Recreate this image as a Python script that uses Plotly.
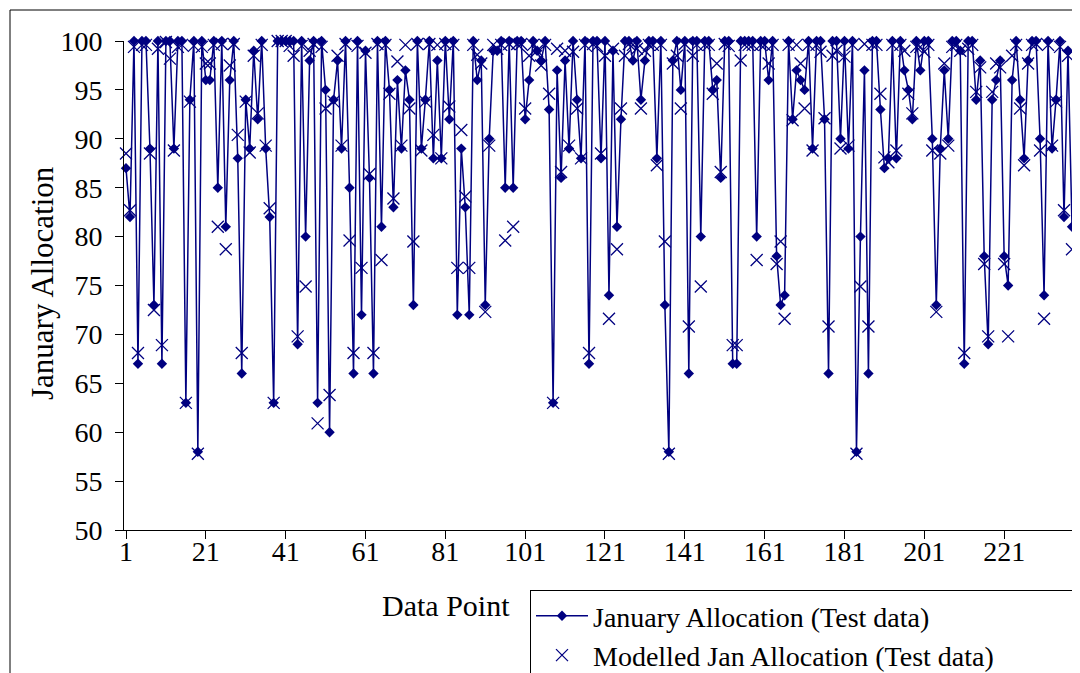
import plotly.graph_objects as go

# ---- data ----
jan_allocation = [
    87, 82, 100, 67, 100, 100, 89, 73, 100, 67, 100, 100, 89, 100, 100, 63, 94, 100,
    58, 100, 96, 96, 100, 85, 100, 81, 96, 100, 88, 66, 94, 89, 99, 92, 100, 89, 82, 63,
    100, 100, 100, 100, 100, 69, 100, 80, 98, 100, 63, 100, 95, 60, 94, 98, 89, 100, 85, 66,
    100, 72, 99, 86, 66, 100, 81, 100, 95, 83, 96, 89, 97, 94, 73, 100, 89, 94, 100, 88,
    98, 88, 100, 92, 100, 72, 89, 83, 72, 100, 96, 98, 73, 90, 99, 99, 100, 85, 100, 85,
    100, 100, 92, 96, 100, 99, 98, 100, 93, 63, 97, 86, 98, 89, 100, 94, 88, 100, 67, 100,
    100, 88, 100, 74, 99, 81, 92, 100, 100, 98, 100, 94, 98, 100, 100, 88, 100, 73, 58, 98,
    100, 95, 100, 66, 100, 100, 80, 100, 100, 95, 96, 86, 100, 100, 67, 67, 100, 100, 100, 100,
    80, 100, 100, 96, 100, 78, 73, 74, 100, 92, 97, 96, 95, 100, 89, 100, 100, 92, 66, 100,
    100, 90, 100, 89, 100, 58, 80, 97, 66, 100, 100, 93, 87, 88, 100, 88, 100, 97, 95, 92,
    100, 97, 100, 100, 90, 73, 89, 97, 90, 100, 100, 99, 67, 100, 100, 94, 98, 78, 69, 94,
    96, 98, 78, 75, 96, 100, 94, 88, 98, 100, 100, 90, 74, 100, 89, 94, 100, 82, 99, 81,
]
modelled_jan = [
    88.5, 82.7, 99.4, 68.1, 99.6, 99.6, 88.5, 72.5, 99.2, 68.9, 99.9, 98.2, 88.8, 99.4, 99.6, 63.0, 93.8, 99.5,
    57.8, 99.4, 97.7, 97.7, 99.6, 81.0, 99.7, 78.7, 97.5, 99.7, 90.4, 68.1, 93.8, 88.6, 98.5, 92.6, 99.6, 89.3, 82.9, 63.0,
    100, 100, 100, 99.5, 98.5, 69.8, 99.5, 74.9, 99.0, 99.7, 60.9, 99.4, 93.1, 63.8, 93.8, 98.5, 89.3, 99.7, 79.6, 68.1,
    99.5, 76.8, 98.8, 86.4, 68.1, 99.7, 77.6, 99.6, 94.6, 83.9, 97.9, 89.3, 99.6, 93.1, 79.5, 99.7, 88.8, 93.8, 99.7, 90.4,
    99.6, 88.0, 99.7, 93.3, 99.6, 76.8, 90.9, 84.1, 76.8, 99.6, 98.6, 97.7, 72.3, 89.3, 99.6, 99.2, 99.6, 79.6, 99.7, 81.0,
    99.7, 99.7, 93.1, 98.5, 99.6, 99.0, 97.5, 99.6, 94.6, 63.0, 99.2, 86.6, 99.0, 89.3, 98.9, 93.1, 88.0, 99.6, 68.1, 99.7,
    99.5, 88.5, 98.5, 71.6, 99.2, 78.7, 93.1, 98.5, 99.7, 99.6, 99.2, 93.1, 99.0, 99.6, 99.6, 87.3, 99.6, 79.5, 57.8, 97.7,
    98.5, 93.1, 99.7, 70.8, 98.5, 99.6, 74.9, 99.6, 99.6, 94.6, 97.7, 86.6, 99.7, 99.5, 68.9, 68.9, 98.0, 99.6, 99.6, 99.6,
    77.6, 99.6, 99.6, 97.7, 99.6, 77.2, 79.5, 71.6, 99.6, 91.9, 99.6, 97.7, 93.1, 99.6, 88.8, 99.6, 98.9, 92.1, 70.8, 98.5,
    99.0, 89.0, 98.4, 89.3, 99.6, 57.8, 74.9, 99.7, 70.8, 99.6, 99.6, 94.6, 88.1, 87.6, 99.6, 88.8, 99.6, 99.0, 94.6, 92.6,
    99.4, 99.4, 98.9, 99.6, 88.8, 72.3, 88.5, 97.7, 89.3, 99.4, 99.6, 99.0, 68.1, 99.2, 99.6, 94.8, 97.3, 77.2, 69.8, 94.8,
    97.7, 97.3, 77.2, 69.8, 98.5, 99.6, 93.1, 87.3, 97.7, 99.6, 99.7, 88.8, 71.6, 99.6, 89.3, 93.8, 99.4, 82.7, 98.5, 78.7,
]
data_points = list(range(1, len(jan_allocation) + 1))
x_tick_values = list(range(1, 222, 20))
y_tick_values = list(range(50, 101, 5))

NAVY = "#000080"
FONT = "Liberation Serif"

# ---- layout geometry (page pixels; the page body has an 8px margin) ----
OFF = 8
W, H = 1080 - OFF, 673 - OFF
PL, PR, PT, PB = 124, 1074, 41, 530          # plot area in page pixels
pw, ph = PR - PL, PB - PT


def px(x):
    return (x - PL) / pw


def py(y):
    return (PB - y) / ph


fig = go.Figure()
fig.add_trace(go.Scatter(
    x=data_points, y=jan_allocation, mode="lines+markers",
    name="January Allocation (Test data)",
    line=dict(color=NAVY, width=1.5),
    marker=dict(symbol="diamond", size=8, color=NAVY),
    cliponaxis=False,
))
fig.add_trace(go.Scatter(
    x=data_points, y=modelled_jan, mode="markers",
    name="Modelled Jan Allocation (Test data)",
    marker=dict(symbol="x-thin-open", size=12, color=NAVY, line=dict(color=NAVY, width=1.3)),
    cliponaxis=False,
))

fig.update_layout(
    template="none",
    width=W, height=H,
    margin=dict(l=PL - OFF, r=W - (PR - OFF), t=PT - OFF, b=H - (PB - OFF), pad=0, autoexpand=False),
    paper_bgcolor="white", plot_bgcolor="white",
    font=dict(family=FONT, size=28, color="black"),
    showlegend=True,
    legend=dict(
        xref="container", yref="container",
        x=(530 - OFF) / W, y=1 - (590 - OFF) / H, xanchor="left", yanchor="top",
        orientation="h", entrywidth=478, entrywidthmode="pixels",
        bordercolor="black", borderwidth=1, bgcolor="white",
        font=dict(family=FONT, size=28, color="black"),
        tracegroupgap=0, itemwidth=52,
    ),
    xaxis=dict(
        range=[0.5, len(jan_allocation) + 0.5], tickmode="array", tickvals=x_tick_values,
        ticks="outside", ticklen=8, tickcolor="black", showline=True, linecolor="black",
        linewidth=1, showgrid=False, zeroline=False, automargin=False, ticklabelstandoff=-12,
        tickfont=dict(family=FONT, size=28, color="black"),
    ),
    yaxis=dict(
        range=[50, 100], tickmode="array", tickvals=y_tick_values,
        ticks="outside", ticklen=8, tickcolor="black", showline=True, linecolor="black",
        linewidth=1, showgrid=False, zeroline=False, ticklabelstandoff=7, automargin=False,
        tickfont=dict(family=FONT, size=28, color="black"),
    ),
    annotations=[
        dict(text="Data Point", x=px(446), y=py(605), xref="paper", yref="paper",
             xanchor="center", yanchor="middle",
             showarrow=False, font=dict(family=FONT, size=30, color="black")),
        dict(text="January Allocation", x=px(42), y=py(283), xref="paper", yref="paper",
             xanchor="center", yanchor="middle",
             textangle=-90, showarrow=False, font=dict(family=FONT, size=31, color="black")),
    ],
    shapes=[
        dict(type="rect", xref="paper", yref="paper", x0=px(10), x1=px(1078),
             y0=py(690), y1=py(10), line=dict(color="black", width=1), layer="below"),
    ],
)

fig.write_html("out.html")
